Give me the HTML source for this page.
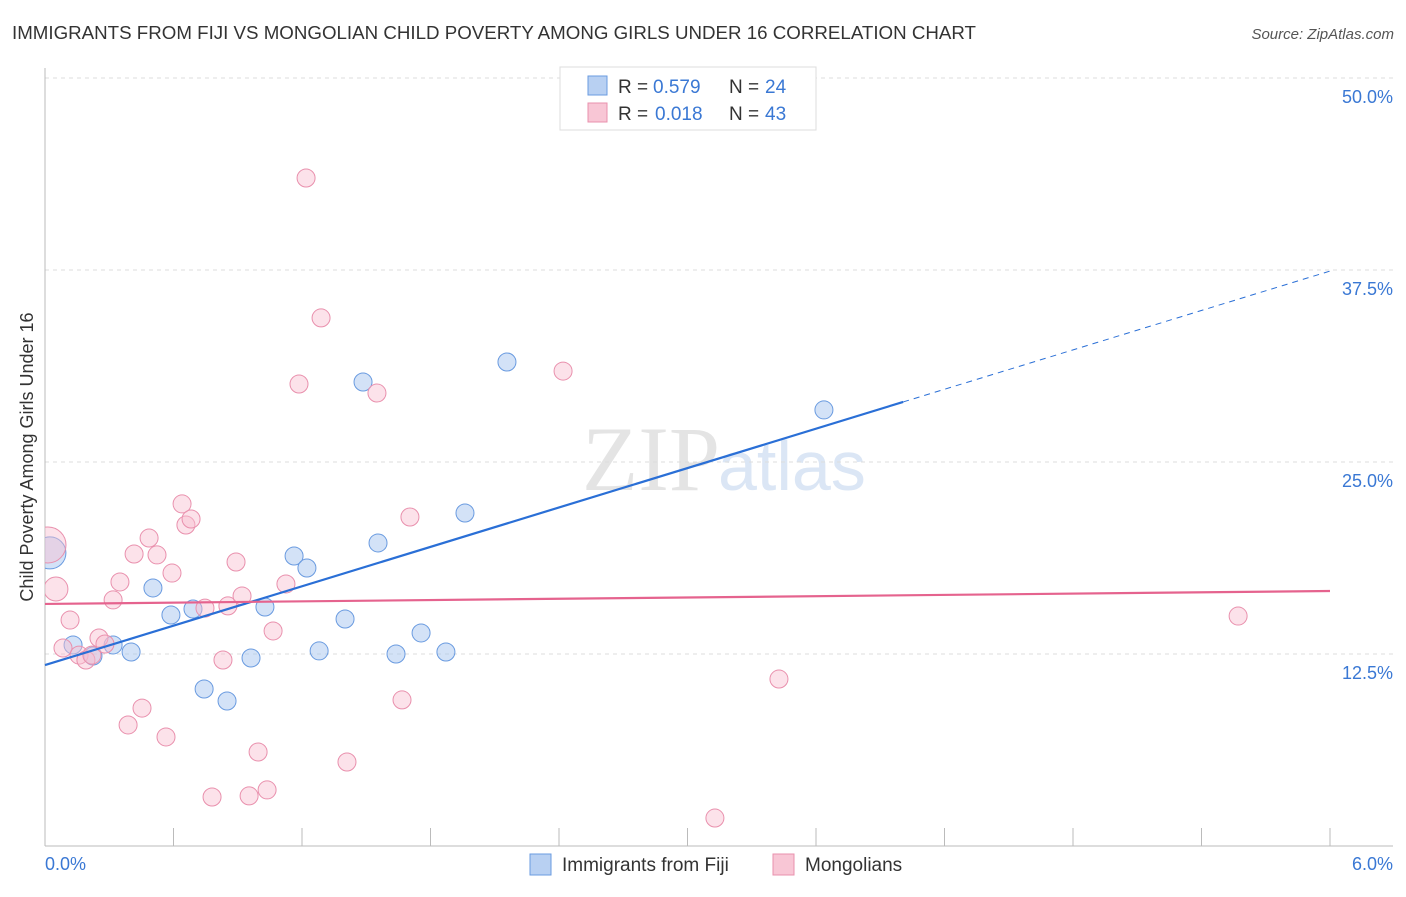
<!DOCTYPE html>
<html><head><meta charset="utf-8"><style>
body{margin:0;background:#fff;font-family:"Liberation Sans",sans-serif;}
</style></head><body>
<svg width="1406" height="892" xmlns="http://www.w3.org/2000/svg" style="font-family:'Liberation Sans',sans-serif">
<text x="12" y="39" font-size="18" fill="#333" textLength="964" lengthAdjust="spacingAndGlyphs">IMMIGRANTS FROM FIJI VS MONGOLIAN CHILD POVERTY AMONG GIRLS UNDER 16 CORRELATION CHART</text>
<text x="1394" y="39" font-size="15" fill="#555" font-style="italic" text-anchor="end">Source: ZipAtlas.com</text>
<text x="720" y="490" font-size="92" fill="#e4e4e4" font-family="Liberation Serif,serif" text-anchor="end">ZIP</text>
<text x="718" y="490" font-size="70" fill="#dbe6f5">atlas</text>
<g id="grid"></g>
<line x1="45" y1="68" x2="45" y2="846" stroke="#bbb"/>
<line x1="45" y1="846" x2="1393" y2="846" stroke="#bbb"/>
<g id="xticks"></g>
<text x="45" y="870" font-size="18" fill="#3a78d4">0.0%</text>
<text x="1393" y="870" font-size="18" fill="#3a78d4" text-anchor="end">6.0%</text>
<text transform="translate(33,457) rotate(-90)" font-size="18" fill="#333" text-anchor="middle">Child Poverty Among Girls Under 16</text>
<defs><clipPath id="clip"><rect x="45" y="60" width="1350" height="786"/></clipPath></defs>
<g id="points" clip-path="url(#clip)"></g>
<g id="lines"></g>
<g>
<rect x="560" y="67" width="256" height="63" fill="#fff" stroke="#ddd"/>
<rect x="588" y="76" width="19" height="19" fill="#b8d0f2" stroke="#6a9be0"/>
<rect x="588" y="103" width="19" height="19" fill="#f8c6d5" stroke="#e990ad"/>
<text x="618" y="93" font-size="19" fill="#333">R =</text>
<text x="653" y="93" font-size="19" fill="#3a78d4">0.579</text>
<text x="729" y="93" font-size="19" fill="#333">N =</text>
<text x="765" y="93" font-size="19" fill="#3a78d4">24</text>
<text x="618" y="120" font-size="19" fill="#333">R =</text>
<text x="655" y="120" font-size="19" fill="#3a78d4">0.018</text>
<text x="729" y="120" font-size="19" fill="#333">N =</text>
<text x="765" y="120" font-size="19" fill="#3a78d4">43</text>
</g>
<g>
<rect x="530" y="854" width="21" height="21" fill="#b8d0f2" stroke="#6a9be0"/>
<text x="562" y="871" font-size="19" fill="#333">Immigrants from Fiji</text>
<rect x="773" y="854" width="21" height="21" fill="#f8c6d5" stroke="#e990ad"/>
<text x="805" y="871" font-size="19" fill="#333">Mongolians</text>
</g>
</svg>
<script>
const yTicks=[12.5,25,37.5,50];
const xTickVals=[0,0.6,1.2,1.8,2.4,3.0,3.6,4.2,4.8,5.4,6.0];
const fijiX=[0.023,0.131,0.224,0.318,0.402,0.504,0.588,0.691,0.743,0.850,0.962,1.027,1.163,1.223,1.280,1.401,1.485,1.555,1.639,1.756,1.872,1.961,2.157,3.637];
const fijiY=[19.08,13.09,12.37,13.09,12.63,16.80,15.04,15.43,10.22,9.44,12.24,15.56,18.88,18.10,12.70,14.78,30.21,19.73,12.50,13.87,12.63,21.68,31.51,28.39];
const fijiSize=[16,9,9,9,9,9,9,9,9,9,9,9,9,9,9,9,9,9,9,9,9,9,9,9];
const mongX=[0.014,0.051,0.084,0.117,0.159,0.191,0.219,0.252,0.280,0.318,0.350,0.388,0.416,0.453,0.486,0.523,0.565,0.593,0.640,0.658,0.682,0.747,0.780,0.831,0.854,0.892,0.920,0.953,0.995,1.037,1.065,1.125,1.186,1.219,1.289,1.410,1.550,1.667,1.704,2.419,3.128,3.427,5.571];
const mongY=[19.60,16.73,12.89,14.71,12.43,12.11,12.43,13.54,13.15,16.02,17.19,7.88,19.01,8.98,20.05,18.95,7.10,17.77,22.27,20.90,21.29,15.49,3.19,12.11,15.63,18.49,16.28,3.26,6.12,3.65,14.00,17.06,30.08,43.49,34.38,5.47,29.49,9.51,21.42,30.92,1.82,10.87,14.97];
const mongSize=[18,12,9,9,9,9,9,9,9,9,9,9,9,9,9,9,9,9,9,9,9,9,9,9,9,9,9,9,9,9,9,9,9,9,9,9,9,9,9,9,9,9,9];
const fijiFit=[11.78,4.275];
const mongFit=[15.76,0.14];
const X=v=>45+v/6*1285, Y=v=>846-v/12.5*192;
const NS='http://www.w3.org/2000/svg';
function mk(t,a,p){const e=document.createElementNS(NS,t);for(const k in a)e.setAttribute(k,a[k]);p.appendChild(e);return e;}
const grid=document.getElementById('grid');
yTicks.forEach(t=>{
 const l=mk('line',{x1:45,x2:1393,y1:Y(t),y2:Y(t),stroke:'#ddd','stroke-dasharray':'4,4'},grid);
 
 
 const tx=mk('text',{x:1393,y:Y(t)+25,'font-size':18,fill:'#3a78d4','text-anchor':'end'},grid);
 tx.textContent=t.toFixed(1)+'%';
 
 
});
const xt=document.getElementById('xticks');
xTickVals.forEach(v=>{
 const l=mk('line',{x1:X(v),x2:X(v),y1:828,y2:846,stroke:'#bbb'},xt);
 
 
});
const pts=document.getElementById('points');
fijiX.forEach((v,i)=>{
 const c=mk('circle',{cx:X(v),cy:Y(fijiY[i]),r:fijiSize[i],fill:'rgba(168,198,240,0.5)',stroke:'#6a9be0','stroke-width':1},pts);
 
 
});
mongX.forEach((v,i)=>{
 const c=mk('circle',{cx:X(v),cy:Y(mongY[i]),r:mongSize[i],fill:'rgba(248,190,208,0.45)',stroke:'#e990ad','stroke-width':1},pts);
 
 
});
const ln=document.getElementById('lines');
const f=x=>fijiFit[0]+fijiFit[1]*x, m=x=>mongFit[0]+mongFit[1]*x;
let a=mk('line',{x1:X(0),y1:Y(f(0)),x2:X(4.007),y2:Y(f(4.007)),stroke:'#2a6fd6','stroke-width':2.2},ln);


a=mk('line',{x1:X(4.007),y1:Y(f(4.007)),x2:X(6),y2:Y(f(6)),stroke:'#2a6fd6','stroke-width':1,'stroke-dasharray':'6,5'},ln);


a=mk('line',{x1:X(0),y1:Y(m(0)),x2:X(6),y2:Y(m(6)),stroke:'#e5638e','stroke-width':2.2},ln);


</script>
</body></html>
